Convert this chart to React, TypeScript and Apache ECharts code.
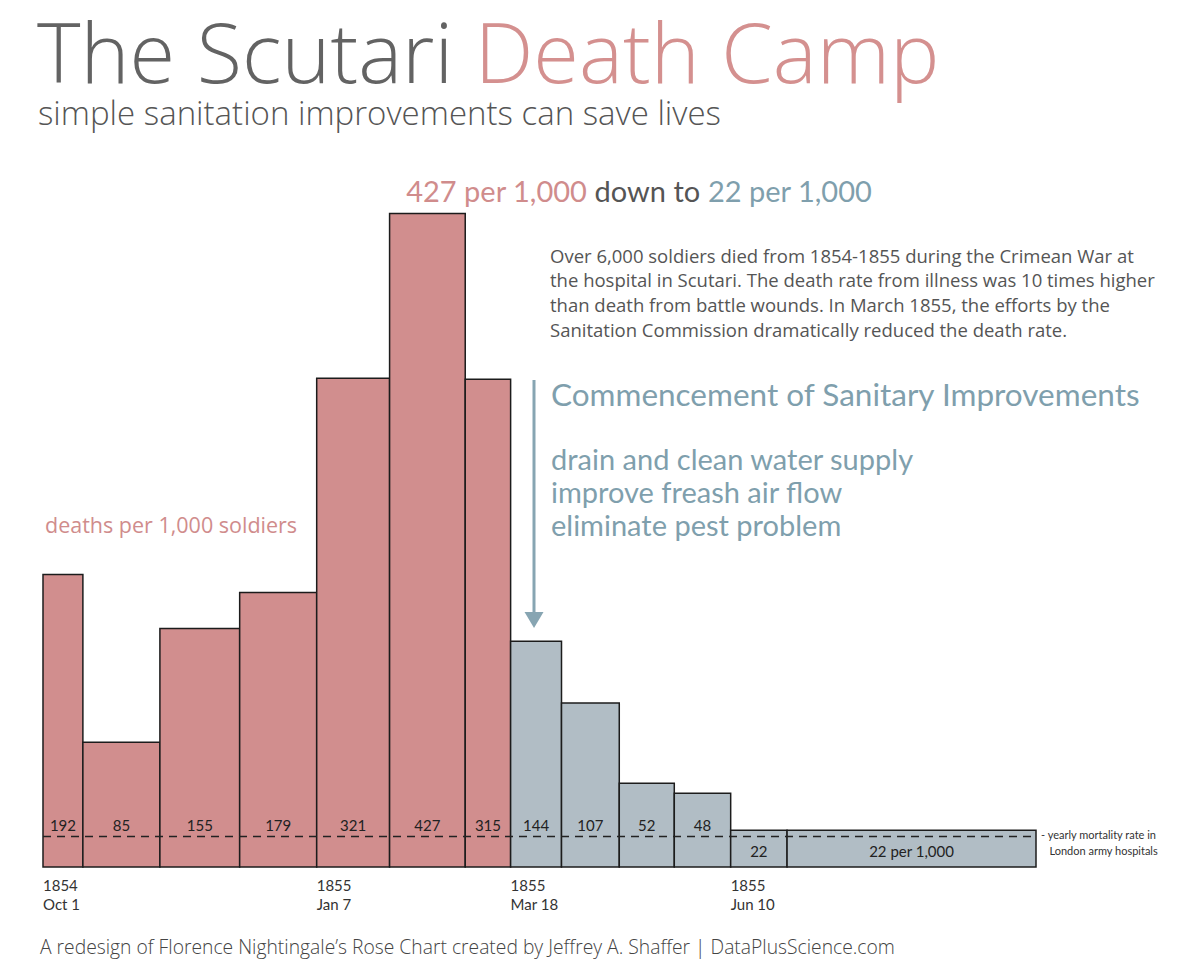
import React, { useEffect, useRef } from "react";
import * as echarts from "echarts";

// ---- data ----
const periodStart = [0, 14.5, 42.5, 71.5, 99.5, 126, 153.5, 170, 188.5, 209.5, 229.5, 250, 270.5];
const periodEnd = [14.5, 42.5, 71.5, 99.5, 126, 153.5, 170, 188.5, 209.5, 229.5, 250, 270.5, 361];
// bar heights (deaths per 1,000)
const deathRatePlotted = [191, 81.5, 155.7, 179.2, 319.2, 426.8, 318.6, 147.4, 107.1, 54.7, 48.1, 24, 24];
// value labels printed in the bars
const barLabels = ["192", "85", "155", "179", "321", "427", "315", "144", "107", "52", "48", "22", "22 per 1,000"];
const phase = ["before", "before", "before", "before", "before", "before", "before", "after", "after", "after", "after", "after", "after"];
const tickValues = [0, 99.5, 170, 250];
const tickLabels = ["1854\nOct 1", "1855\nJan 7", "1855\nMar 18", "1855\nJun 10"];
const londonRate = 20;

const LATO = "Lato, 'Noto Sans', sans-serif";
const OPEN = "'Open Sans', 'Noto Sans', sans-serif";
const RED = "#d18e8e";
const GRAY = "#b1bdc5";
const BLUE_TXT = "#7f9fad";
const PINK_TXT = "#d08c8c";

export default function App() {
  const ref = useRef<HTMLDivElement>(null);

  useEffect(() => {
    if (!ref.current) return;
    const chart = echarts.init(ref.current, null, { renderer: "svg" });

    const barData = deathRatePlotted.map((v, i) => [periodStart[i], periodEnd[i], v]);

    const option: any = {
      animation: false,
      backgroundColor: "#ffffff",
      grid: { left: 43, right: 164, top: 178, bottom: 105 },
      xAxis: {
        type: "value",
        min: 0,
        max: 361,
        splitLine: { show: false },
        axisLine: { show: false },
        axisTick: { show: false },
        axisLabel: {
          customValues: tickValues,
          formatter: (val: number) => {
            const idx = tickValues.indexOf(val);
            return idx >= 0 ? tickLabels[idx] : "";
          },
          align: "left",
          margin: 8,
          fontSize: 15,
          lineHeight: 19,
          color: "#333",
          fontFamily: LATO,
        },
      },
      yAxis: {
        type: "value",
        min: 0,
        max: 450,
        show: false,
        splitLine: { show: false },
      },
      series: [
        {
          type: "custom",
          z: 2,
          data: barData,
          encode: { x: [0, 1], y: 2 },
          renderItem: (params: any, api: any) => {
            const x0 = api.value(0);
            const x1 = api.value(1);
            const v = api.value(2);
            const idx = params.dataIndex;
            const p0 = api.coord([x0, v]);
            const p1 = api.coord([x1, 0]);
            const h = p1[1] - p0[1];
            const off = h < 45 ? 16 : 42;
            return {
              type: "group",
              children: [
                {
                  type: "rect",
                  shape: { x: p0[0], y: p0[1], width: p1[0] - p0[0], height: h },
                  style: {
                    fill: phase[idx] === "before" ? RED : GRAY,
                    stroke: "#1c1c1c",
                    lineWidth: 1.5,
                  },
                },
                {
                  type: "text",
                  x: (p0[0] + p1[0]) / 2,
                  y: p1[1] - off,
                  style: {
                    text: barLabels[idx],
                    fontSize: 15,
                    fill: "#222",
                    align: "center",
                    verticalAlign: "middle",
                    fontFamily: LATO,
                  },
                },
              ],
            };
          },
        },
        {
          type: "line",
          z: 5,
          data: [
            [0, londonRate],
            [361, londonRate],
          ],
          symbol: "none",
          lineStyle: { color: "#222", width: 1.5, type: [8, 6] },
        },
      ],
      graphic: [
        {
          type: "text",
          x: 37,
          y: 50,
          style: {
            text: "{a|The Scutari }{b|Death Camp}",
            verticalAlign: "middle",
            rich: {
              a: { fontSize: 83, lineHeight: 80, fontWeight: 300, fill: "#636363", fontFamily: OPEN },
              b: { fontSize: 83, lineHeight: 80, fontWeight: 300, fill: "#d4908f", fontFamily: OPEN },
            },
          },
        },
        {
          type: "text",
          x: 38,
          y: 112,
          style: {
            text: "simple sanitation improvements can save lives",
            fontSize: 33,
            lineHeight: 32,
            fontWeight: 300,
            fill: "#555",
            fontFamily: OPEN,
            verticalAlign: "middle",
          },
        },
        {
          type: "text",
          x: 639,
          y: 190,
          style: {
            text: "{r|427 per 1,000 }{g|down to }{b|22 per 1,000}",
            align: "center",
            verticalAlign: "middle",
            rich: {
              r: { fontSize: 29, fill: PINK_TXT, fontFamily: LATO },
              g: { fontSize: 29, fill: "#555", fontFamily: LATO },
              b: { fontSize: 29, fill: BLUE_TXT, fontFamily: LATO },
            },
          },
        },
        {
          type: "text",
          x: 550,
          y: 243,
          style: {
            text:
              "Over 6,000 soldiers died from 1854-1855 during the Crimean War at\nthe hospital in Scutari. The death rate from illness was 10 times higher\nthan death from battle wounds. In March 1855, the efforts by the\nSanitation Commission dramatically reduced the death rate.",
            fontSize: 18.5,
            lineHeight: 24.6,
            fill: "#555",
            fontFamily: OPEN,
          },
        },
        {
          type: "line",
          shape: { x1: 534, y1: 380, x2: 534, y2: 618 },
          style: { stroke: "#87a5b2", lineWidth: 3 },
        },
        {
          type: "polygon",
          shape: {
            points: [
              [524.5, 612],
              [534, 628],
              [543.5, 612],
            ],
          },
          style: { fill: "#87a5b2" },
        },
        {
          type: "text",
          x: 551,
          y: 394,
          style: {
            text: "Commencement of Sanitary Improvements",
            fontSize: 31.5,
            fill: BLUE_TXT,
            fontFamily: LATO,
            verticalAlign: "middle",
          },
        },
        {
          type: "text",
          x: 551,
          y: 442,
          style: {
            text: "drain and clean water supply\nimprove freash air flow\neliminate pest problem",
            fontSize: 29,
            lineHeight: 33,
            fill: BLUE_TXT,
            fontFamily: LATO,
          },
        },
        {
          type: "text",
          x: 45,
          y: 524,
          style: {
            text: "deaths per 1,000 soldiers",
            fontSize: 21.5,
            fill: PINK_TXT,
            fontFamily: OPEN,
            verticalAlign: "middle",
          },
        },
        {
          type: "text",
          x: 1041,
          y: 826,
          style: {
            text: "- yearly mortality rate in\n   London army hospitals",
            fontSize: 11,
            lineHeight: 16,
            fill: "#333",
            fontFamily: LATO,
          },
        },
        {
          type: "text",
          x: 40,
          y: 946,
          style: {
            text: "A redesign of Florence Nightingale\u2019s Rose Chart created by Jeffrey A. Shaffer | DataPlusScience.com",
            fontSize: 19.3,
            fontWeight: 300,
            fill: "#444",
            fontFamily: OPEN,
            verticalAlign: "middle",
          },
        },
      ],
    };

    chart.setOption(option);
    return () => chart.dispose();
  }, []);

  return <div ref={ref} style={{ width: 1200, height: 972, position: "absolute", left: 0, top: 0 }} />;
}
